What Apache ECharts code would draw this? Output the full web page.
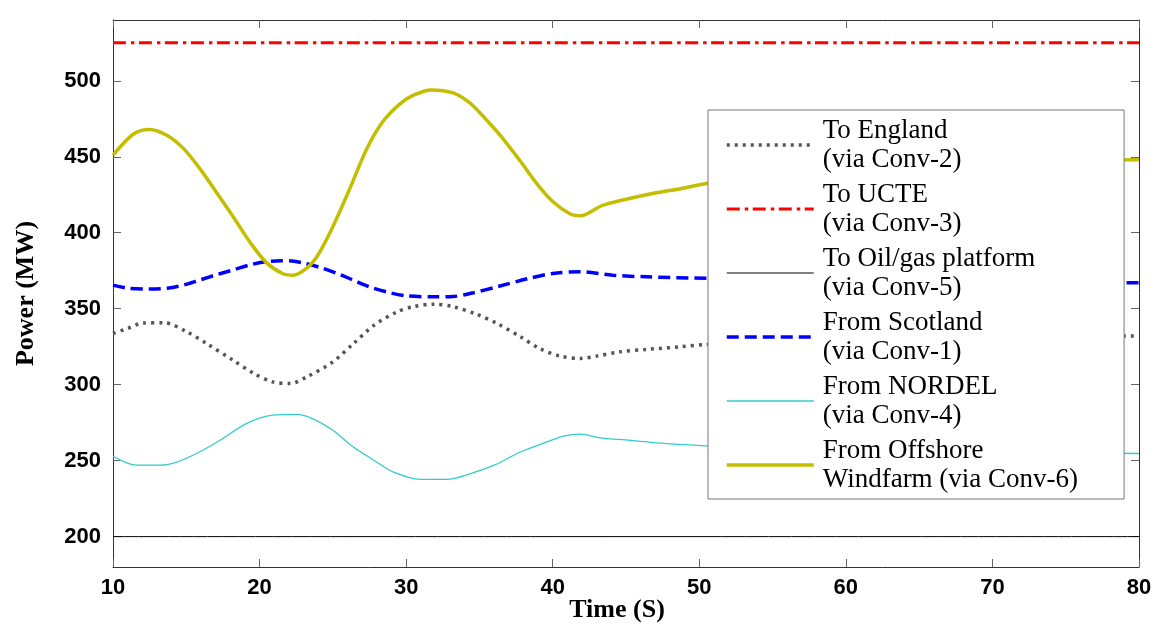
<!DOCTYPE html>
<html><head><meta charset="utf-8">
<script src="https://cdn.jsdelivr.net/npm/echarts@6/dist/echarts.min.js"></script>
<style>html,body{margin:0;padding:0;background:#fff}#c{width:1163px;height:627px}</style>
</head><body><div id="c"></div><script>
// ---- data ----
const seriesNames = ['To England', 'To UCTE', 'To Oil/gas platform', 'From Scotland', 'From NORDEL', 'From Offshore Windfarm'];
const legendLabels = ['To England\n(via Conv-2)', 'To UCTE\n(via Conv-3)', 'To Oil/gas platform\n(via Conv-5)', 'From Scotland\n(via Conv-1)', 'From NORDEL\n(via Conv-4)', 'From Offshore\nWindfarm (via Conv-6)'];
const xTicks = [10, 20, 30, 40, 50, 60, 70, 80];
const yTicks = [200, 250, 300, 350, 400, 450, 500];

const england = [[10,333.7],[11,337],[12,340.5],[13.5,340.7],[15,335],[16.4,327],[18.2,316],[19.6,307.4],[20.9,301.8],[22.1,300.8],[23.2,305],[25,315],[26.4,327],[27.8,339],[29.4,348],[30.5,351.3],[31.9,353],[33.2,351.3],[34.8,346.4],[36.2,340.3],[37.8,331.5],[39.1,323.8],[40.5,318.8],[41.9,317.3],[43,318.8],[44.6,321.6],[46.4,323.2],[48.7,324.9],[50.5,326.5],[60,329.5],[70,331.5],[80,332]];
const ucte = [[10,525],[80,525]];
const oilGas = [[10,200],[80,200]];
const scotland = [[10,365.5],[11,363.5],[12.5,363],[13.7,363.5],[14.8,365.5],[15.9,368.8],[17.1,372.5],[18.2,375.5],[19.4,379],[20.5,381],[21.5,381.6],[22.2,381.4],[23,380],[24.1,377.2],[25.3,373.2],[26.4,368.8],[27.5,364.4],[28.9,360.5],[30,358.5],[31.8,357.8],[33.2,358],[34.6,360.5],[36.2,364.4],[38.4,370],[40,373.2],[41.9,374.3],[44.1,372],[46.4,371],[50.6,370],[60,369],[70,367.5],[80,367]];
const nordel = [[10,252.9],[11.6,247],[13.2,247],[14.4,249.2],[15.9,255.7],[17.3,263.4],[19.1,274.4],[20.9,279.9],[22.5,280.4],[23.6,277.7],[25,270],[26.4,259],[27.8,250.3],[29.1,242.6],[31,237.7],[32.8,237.7],[34.4,241.5],[36,247],[37.8,255.7],[39.6,262.3],[40.8,266.3],[41.9,267.4],[43.2,265],[45.3,263.4],[47.6,261.3],[49.8,260.1],[55,258],[60,257],[70,255.5],[80,254.7]];
const windfarm = [[10,451],[11.4,465],[12.5,468],[13.7,464],[14.8,455.5],[15.9,442.5],[17.1,426],[18.2,410.5],[19.4,393],[20.5,380],[21.6,373],[22.3,372],[23.2,376.5],[23.9,384],[25,404],[26.2,430],[27.3,455],[28.4,473],[29.6,485],[30.5,490.5],[31.7,494],[33.2,492],[34.4,485],[35.5,474],[36.6,462],[37.8,447],[38.9,432.5],[40,420.5],[41.2,412.3],[41.9,411.2],[43.4,418],[46.4,425],[48.7,429],[50.6,432.5],[55,437],[60,441],[65,444],[70,446],[75,447.5],[80,448]];

// ---- chart ----
const chart = echarts.init(document.getElementById('c'), null, {renderer: 'canvas'});
const frame = {show: true, onZero: false, lineStyle: {color: '#333', width: 1}};
const tick = {show: true, inside: true, length: 8, lineStyle: {color: '#666', width: 1}};
const labelFont = {fontFamily: 'Liberation Sans', fontWeight: 'bold', fontSize: 22, color: '#000'};
const titleFont = {fontFamily: 'Liberation Serif', fontWeight: 'bold', fontSize: 26, color: '#000'};

function line(name, data, style, z) {
  return {name, type: 'line', data, symbol: 'none', showSymbol: false, smooth: 0.3,
    lineStyle: style, itemStyle: {color: style.color}, z: z || 2, silent: true};
}

chart.setOption({
  animation: false,
  backgroundColor: '#fff',
  grid: {left: 113, top: 20, right: 24, bottom: 60, show: false, outerBoundsMode: 'none', containLabel: false},
  xAxis: [
    {type: 'value', min: 10, max: 80, interval: 10, position: 'bottom',
     axisLine: frame, axisTick: Object.assign({customValues: xTicks}, tick),
     axisLabel: Object.assign({margin: 10, customValues: xTicks}, labelFont), splitLine: {show: false},
     name: 'Time (S)', nameLocation: 'middle', nameGap: 30, nameMoveOverlap: false,
     nameTextStyle: Object.assign({padding: [0, 18, 0, 0]}, titleFont)},
    {type: 'value', min: 10, max: 80, interval: 10, position: 'top',
     axisLine: frame, axisTick: Object.assign({customValues: xTicks}, tick),
     axisLabel: {show: false}, splitLine: {show: false}}
  ],
  yAxis: [
    {type: 'value', min: 180, max: 540, position: 'left',
     axisLine: frame, axisTick: Object.assign({customValues: yTicks}, tick),
     axisLabel: Object.assign({margin: 12, customValues: yTicks}, labelFont), splitLine: {show: false},
     name: 'Power (MW)', nameLocation: 'middle', nameGap: 74, nameTextStyle: titleFont},
    {type: 'value', min: 180, max: 540, position: 'right',
     axisLine: frame, axisTick: Object.assign({customValues: yTicks}, tick),
     axisLabel: {show: false}, splitLine: {show: false}}
  ],
  legend: {
    orient: 'vertical', left: 708, top: 110, padding: [6, 46, 5, 17],
    itemWidth: 87, itemHeight: 14, itemGap: 6,
    backgroundColor: '#fff', borderColor: '#777', borderWidth: 1,
    itemStyle: {opacity: 0},
    lineStyle: {width: 'inherit'},
    textStyle: {fontFamily: 'Liberation Serif', fontSize: 27, lineHeight: 29, color: '#000', padding: [0, 0, 0, 4]},
    formatter: n => legendLabels[seriesNames.indexOf(n)],
    data: seriesNames, selectedMode: false
  },
  series: [
    line(seriesNames[0], england, {color: '#555', width: 3.5, type: [3, 5]}),
    line(seriesNames[1], ucte, {color: '#ff0000', width: 3, type: [13, 5, 3.5, 4.5]}),
    line(seriesNames[2], oilGas, {color: '#000', width: 1}),
    line(seriesNames[3], scotland, {color: '#0000ff', width: 3.5, type: [12, 6]}),
    line(seriesNames[4], nordel, {color: '#33cccc', width: 1.3}),
    line(seriesNames[5], windfarm, {color: '#c4be00', width: 3.5}, 3)
  ]
});
</script></body></html>
